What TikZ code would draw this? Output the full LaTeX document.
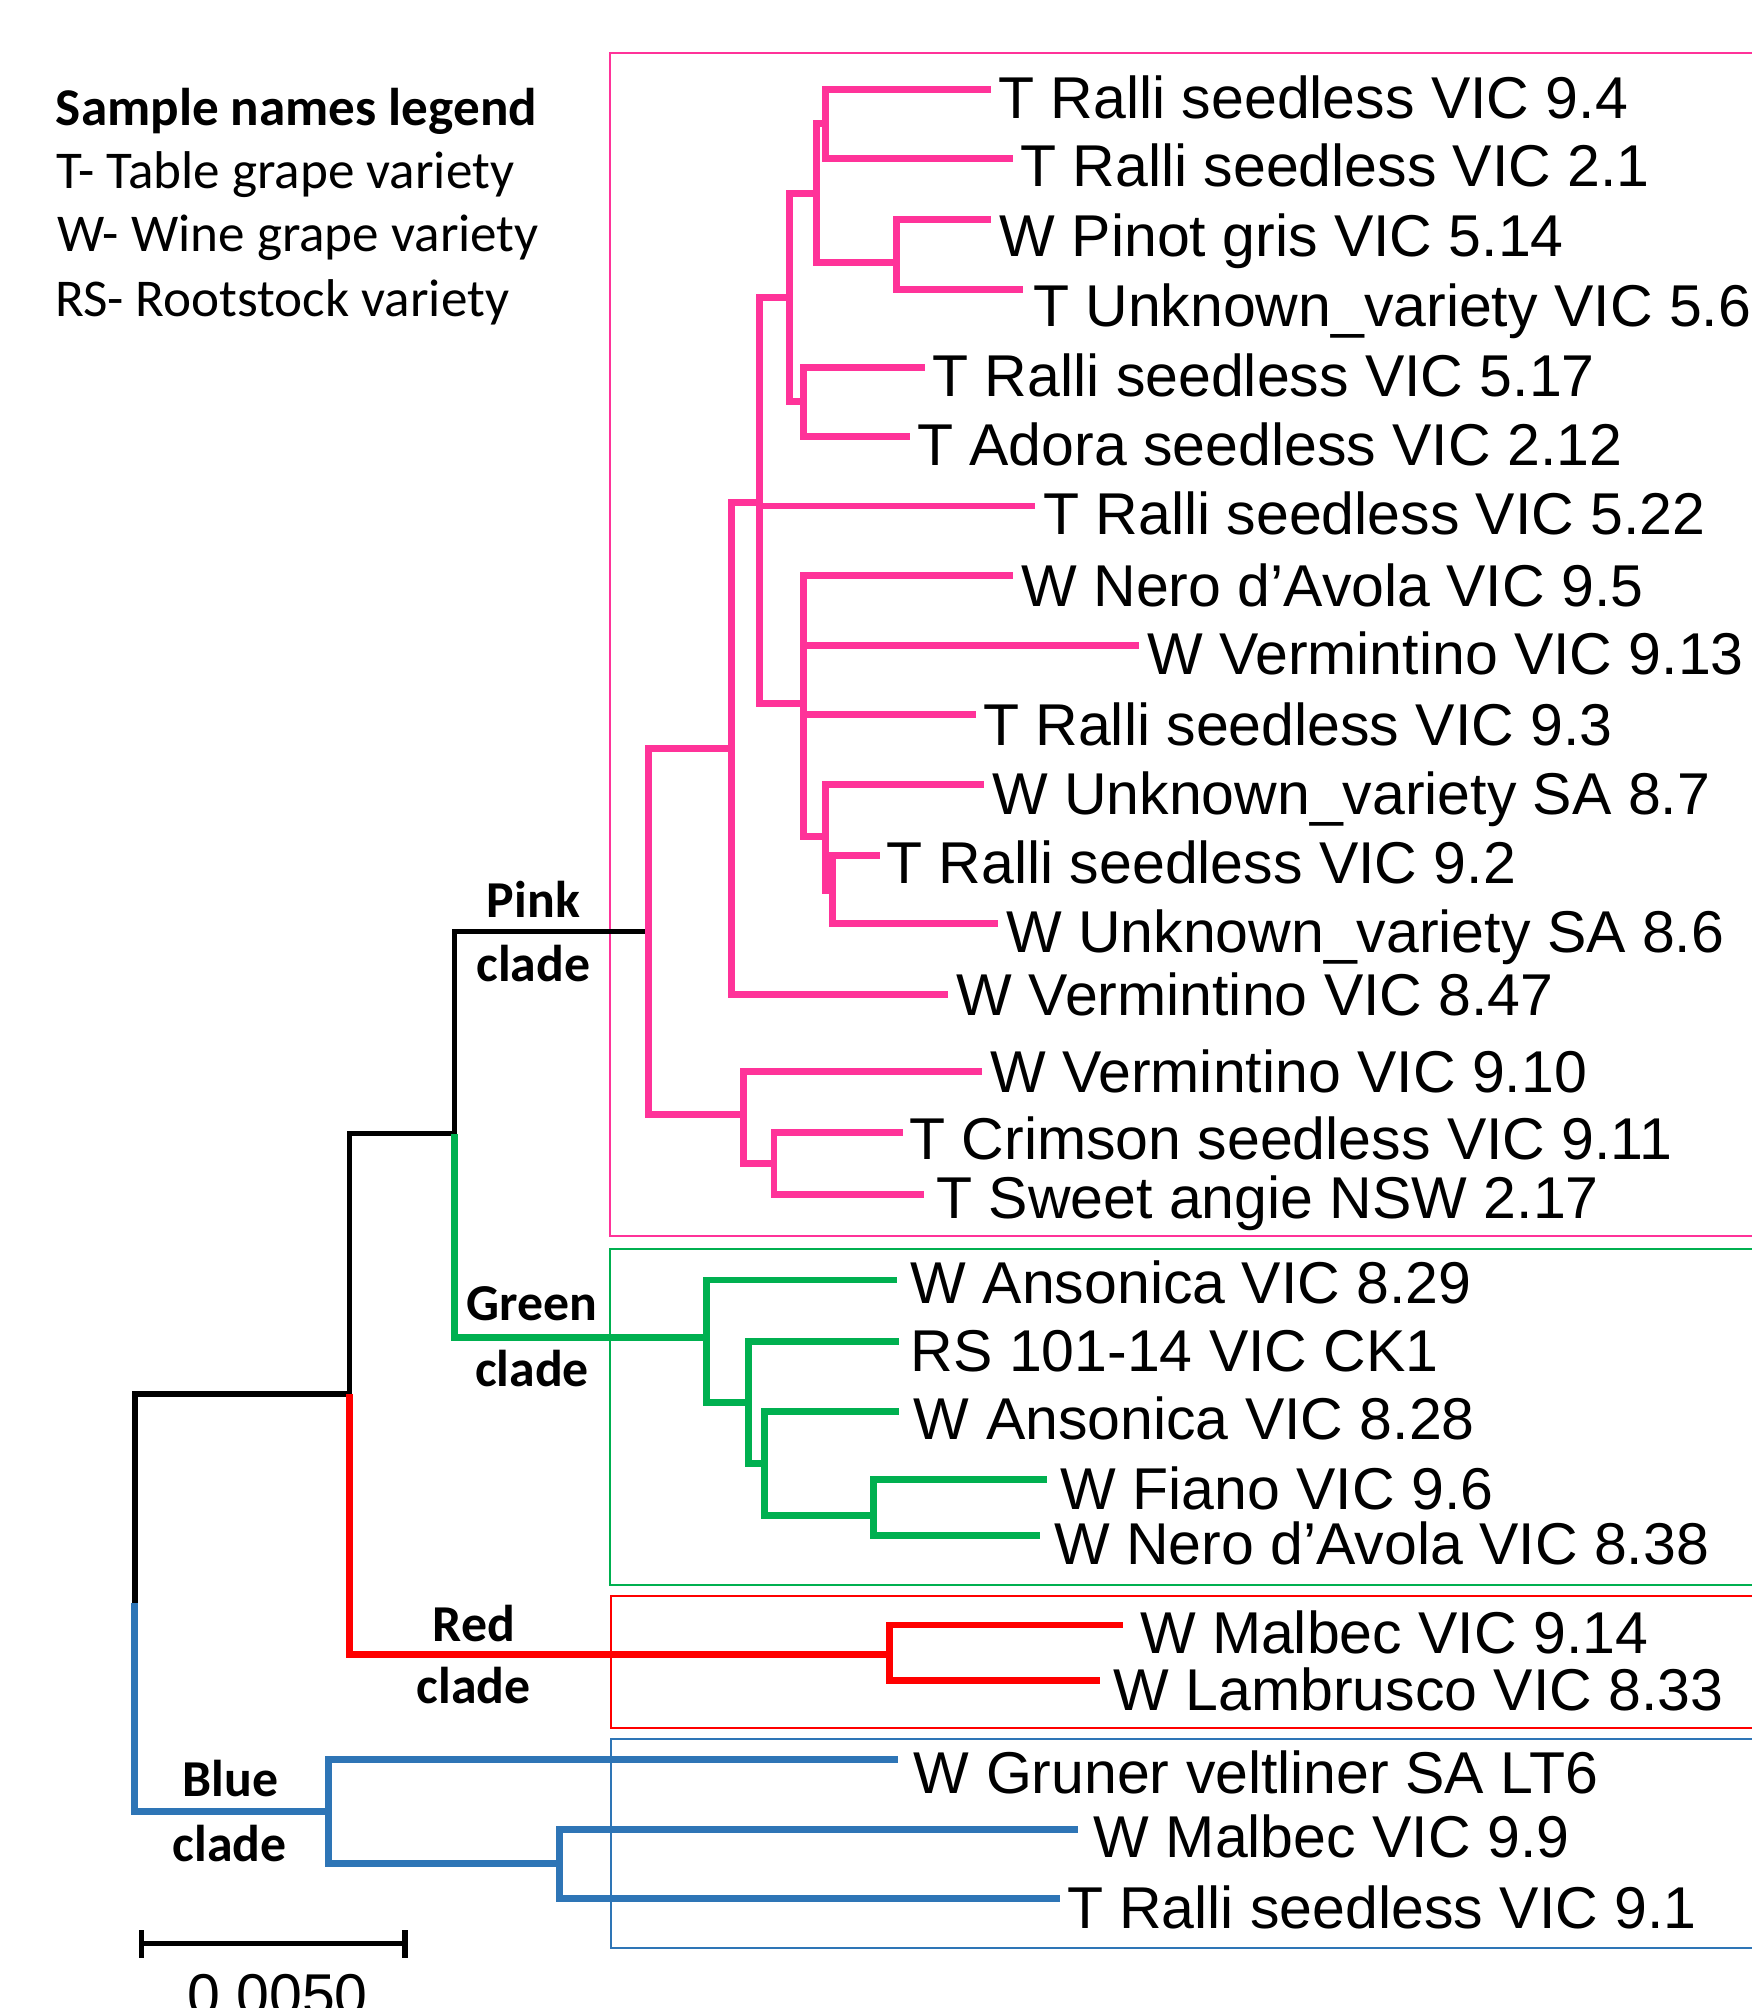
\documentclass[tikz,border=0pt]{standalone}
\usepackage{fontspec}
\setmainfont{Liberation Sans}
\newfontfamily\calib{Carlito}
\definecolor{cpink}{HTML}{FF3399}
\definecolor{cgreen}{HTML}{00B050}
\definecolor{cred}{HTML}{FF0000}
\definecolor{cblue}{HTML}{2E75B6}
\begin{document}
\begin{tikzpicture}[x=0.01cm, y=-0.01cm,
  br/.style={line width=1.55pt, line join=miter},
  bk/.style={br, black, line width=1.15pt},
  pk/.style={br, cpink},
  gr/.style={br, cgreen},
  rd/.style={br, cred},
  bl/.style={br, cblue},
  cladebox/.style={line width=0.45pt},
  lab/.style={anchor=base west, inner sep=0pt, font=\fontsize{13.1}{15}\selectfont},
  cl/.style={anchor=base, inner sep=0pt, font=\calib\bfseries\fontsize{11.5}{14}\selectfont},
  leg/.style={anchor=base west, inner sep=0pt, font=\calib\fontsize{11.8}{14}\selectfont}]
\useasboundingbox (0,0) rectangle (1368,1568);
\fill[white] (0,0) rectangle (1368,1568);

% clade boxes
\draw[cladebox, cpink] (476,41.5) rectangle (1400,965.5);
\draw[cladebox, cgreen] (476,975.3) rectangle (1400,1237.7);
\draw[cladebox, cred] (477,1246.2) rectangle (1400,1349.5);
\draw[cladebox, cblue] (477,1358.2) rectangle (1400,1521.2);

% legend
\node[leg, font=\calib\bfseries\fontsize{11.8}{14}\selectfont] (lg0) at (43,97.6) {Sample names legend};
\node[leg] (lg1) at (43.5,147) {T- Table grape variety};
\node[leg] (lg2) at (44.5,196.5) {W- Wine grape variety};
\node[leg] (lg3) at (42.5,247.3) {RS- Rootstock variety};

% internal nodes
\coordinate (U) at (105.4,1251.8);
\coordinate (S) at (272.9,1088.5);
\coordinate (R) at (354.8,885.4);
\coordinate (K) at (506.7,727.3);
\coordinate (G) at (571.0,584.4);
\coordinate (F) at (593.4,392.2);
\coordinate (D) at (616.3,232.4);
\coordinate (B) at (637.9,150.9);
\coordinate (A) at (644.5,96.7);
\coordinate (C) at (700.2,205.0);
\coordinate (E) at (627.7,313.6);
\coordinate (H) at (627.8,549.5);
\coordinate (I) at (644.4,653.5);
\coordinate (J) at (650.1,695.3);
\coordinate (L) at (580.5,870.6);
\coordinate (M) at (604.4,908.6);
\coordinate (N) at (551.8,1044.4);
\coordinate (O) at (584.3,1095.2);
\coordinate (P) at (596.8,1142.6);
\coordinate (Q) at (682.4,1183.7);
\coordinate (T) at (694.9,1292.3);
\coordinate (V) at (256.4,1414.6);
\coordinate (W) at (436.8,1455.0);

% leaf ends
\coordinate (l1) at (774.1,69.7);
\coordinate (l2) at (791.1,123.6);
\coordinate (l3) at (774.0,171.2);
\coordinate (l4) at (798.6,225.9);
\coordinate (l5) at (722.4,287.1);
\coordinate (l6) at (710.5,341.0);
\coordinate (l7) at (808.5,395.1);
\coordinate (l8) at (791.4,449.5);
\coordinate (l9) at (889.1,504.3);
\coordinate (l10) at (762.1,558.3);
\coordinate (l11) at (768.1,612.9);
\coordinate (l12) at (687.5,667.7);
\coordinate (l13) at (779.2,721.4);
\coordinate (l14) at (740.4,776.2);
\coordinate (l15) at (766.6,836.4);
\coordinate (l16) at (704.8,884.5);
\coordinate (l17) at (721.8,932.6);
\coordinate (l18) at (700.1,999.5);
\coordinate (l19) at (702.0,1047.6);
\coordinate (l20) at (702.2,1102.3);
\coordinate (l21) at (817.3,1155.6);
\coordinate (l22) at (812.1,1199.3);
\coordinate (l23) at (877.1,1268.9);
\coordinate (l24) at (858.9,1312.6);
\coordinate (l25) at (701.4,1374.3);
\coordinate (l26) at (841.5,1428.4);
\coordinate (l27) at (827.7,1482.8);

% leaf labels
\node[lab] (t1) at (779,92.4) {T Ralli seedless VIC 9.4};
\node[lab] (t2) at (796,145.8) {T Ralli seedless VIC 2.1};
\node[lab] (t3) at (780,200.4) {W Pinot gris VIC 5.14};
\node[lab] (t4) at (806,255.1) {T Unknown\_variety VIC 5.6};
\node[lab] (t5) at (727.5,309.7) {T Ralli seedless VIC 5.17};
\node[lab] (t6) at (715.5,363.1) {T Adora seedless VIC 2.12};
\node[lab] (t7) at (814,417.7) {T Ralli seedless VIC 5.22};
\node[lab] (t8) at (797,473.2) {W Nero d’Avola VIC 9.5};
\node[lab] (t9) at (895,526.9) {W Vermintino VIC 9.13};
\node[lab] (t10) at (767,582) {T Ralli seedless VIC 9.3};
\node[lab] (t11) at (774,636) {W Unknown\_variety SA 8.7};
\node[lab] (t12) at (691.5,690) {T Ralli seedless VIC 9.2};
\node[lab] (t13) at (785,744.1) {W Unknown\_variety SA 8.6};
\node[lab] (t14) at (746.5,792.9) {W Vermintino VIC 8.47};
\node[lab] (t15) at (772.5,853.1) {W Vermintino VIC 9.10};
\node[lab] (t16) at (709.5,905.4) {T Crimson seedless VIC 9.11};
\node[lab] (t17) at (730.5,951.4) {T Sweet angie NSW 2.17};
\node[lab] (t18) at (710.5,1017.7) {W Ansonica VIC 8.29};
\node[lab] (t19) at (710.5,1071) {RS 101-14 VIC CK1};
\node[lab] (t20) at (713,1124.4) {W Ansonica VIC 8.28};
\node[lab] (t21) at (827.5,1179) {W Fiano VIC 9.6};
\node[lab] (t22) at (822.5,1222) {W Nero d’Avola VIC 8.38};
\node[lab] (t23) at (889.5,1291.4) {W Malbec VIC 9.14};
\node[lab] (t24) at (869,1335.4) {W Lambrusco VIC 8.33};
\node[lab] (t25) at (713,1400.3) {W Gruner veltliner SA LT6};
\node[lab] (t26) at (853.5,1450.3) {W Malbec VIC 9.9};
\node[lab] (t27) at (832.5,1505.7) {T Ralli seedless VIC 9.1};

% backbone
\draw[bk] (U) |- (S);
\draw[bk] (S) |- (R);
\draw[bk] (R) |- (K);
% blue clade
\draw[bl] (U) |- (V);
\draw[bl] (V) |- (l25);
\draw[bl] (V) |- (W);
\draw[bl] (W) |- (l26);
\draw[bl] (W) |- (l27);
% red clade
\draw[rd] (S) |- (T);
\draw[rd] (T) |- (l23);
\draw[rd] (T) |- (l24);
% green clade
\draw[gr] (R) |- (N);
\draw[gr] (N) |- (l18);
\draw[gr] (N) |- (O);
\draw[gr] (O) |- (l19);
\draw[gr] (O) |- (P);
\draw[gr] (P) |- (l20);
\draw[gr] (P) |- (Q);
\draw[gr] (Q) |- (l21);
\draw[gr] (Q) |- (l22);
% pink clade
\draw[pk] (K) |- (G);
\draw[pk] (K) |- (L);
\draw[pk] (G) |- (F);
\draw[pk] (G) |- (l14);
\draw[pk] (F) |- (D);
\draw[pk] (F) |- (l7);
\draw[pk] (F) |- (H);
\draw[pk] (D) |- (B);
\draw[pk] (D) |- (E);
\draw[pk] (B) |- (A);
\draw[pk] (B) |- (C);
\draw[pk] (A) |- (l1);
\draw[pk] (A) |- (l2);
\draw[pk] (C) |- (l3);
\draw[pk] (C) |- (l4);
\draw[pk] (E) |- (l5);
\draw[pk] (E) |- (l6);
\draw[pk] (H) |- (l8);
\draw[pk] (H) |- (l9);
\draw[pk] (H) |- (l10);
\draw[pk] (H) |- (I);
\draw[pk] (I) |- (l11);
\draw[pk] (I) |- (J);
\draw[pk] (J) |- (l12);
\draw[pk] (J) |- (l13);
\draw[pk] (L) |- (l15);
\draw[pk] (L) |- (M);
\draw[pk] (M) |- (l16);
\draw[pk] (M) |- (l17);

% clade labels
\node[cl] (pk1) at (416.5,716.7) {Pink};
\node[cl] (pk2) at (416.5,766.8) {clade};
\node[cl] (gr1) at (415.2,1031.2) {Green};
\node[cl] (gr2) at (415.5,1082.5) {clade};
\node[cl] (rd1) at (370,1281.8) {Red};
\node[cl] (rd2) at (370,1330.5) {clade};
\node[cl] (bl1) at (180,1402.9) {Blue};
\node[cl] (bl2) at (179.5,1453.6) {clade};

% scale bar
\coordinate (sb1) at (110.6,1517.9);
\coordinate (sb2) at (316.2,1517.9);
\draw[bk] (sb1) -- (sb2);
\draw[bk] ([yshift=-0.11cm]sb1) -- ([yshift=0.11cm]sb1);
\draw[bk] ([yshift=-0.11cm]sb2) -- ([yshift=0.11cm]sb2);
\node[lab, anchor=base] (sbt) at (216.7,1574) {0.0050};
\end{tikzpicture}
\end{document}
